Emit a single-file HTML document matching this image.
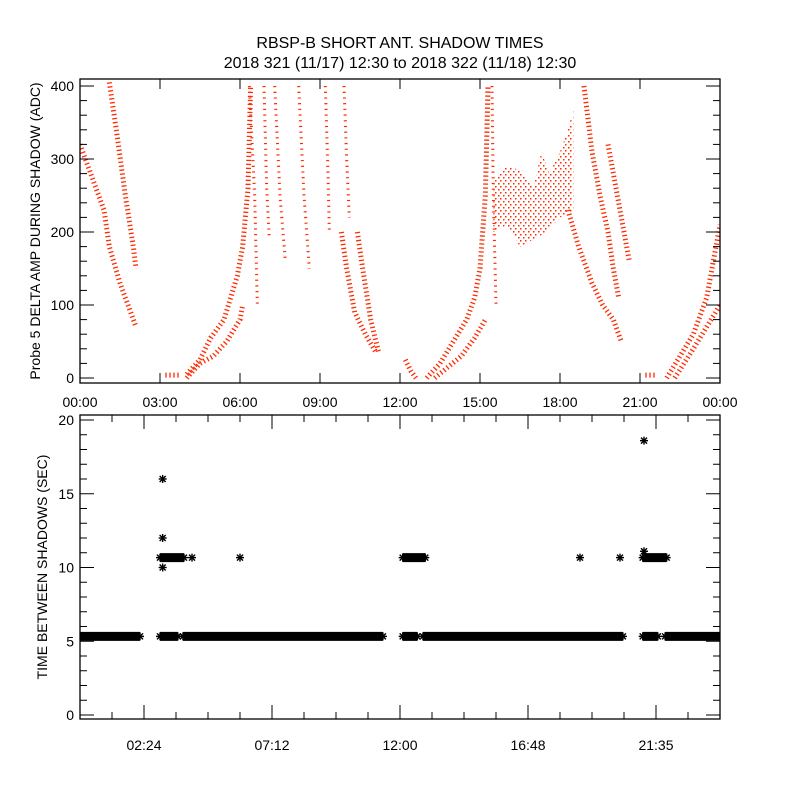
<!DOCTYPE html>
<html><head><meta charset="utf-8"><style>
html,body{margin:0;padding:0;background:#fff}
svg{display:block}
text{font-family:"Liberation Sans",sans-serif;fill:#000}
</style></head><body>
<svg id="chart" width="800" height="800" viewBox="0 0 800 800">
<defs>
<pattern id="dots" width="5" height="6" patternUnits="userSpaceOnUse">
<rect x="0" y="0" width="1.5" height="1.5" fill="#ff2a00"/>
<rect x="3" y="3" width="1.5" height="1.5" fill="#ff2a00"/>
</pattern>
<clipPath id="clipTop"><rect x="80" y="79" width="640" height="304"/></clipPath>
<clipPath id="clipBot"><rect x="80" y="415" width="640" height="304"/></clipPath>
</defs>
<text x="400" y="48" text-anchor="middle" font-size="16">RBSP-B SHORT ANT. SHADOW TIMES</text>
<text x="400" y="68" text-anchor="middle" font-size="16">2018 321 (11/17) 12:30 to 2018 322 (11/18) 12:30</text>
<g id="topPanel"><g id="topMarks" clip-path="url(#clipTop)"></g></g>
<g id="botPanel"><g id="botMarks" clip-path="url(#clipBot)"></g></g>
</svg>
<script>
// ---------- data ----------
const topXTickLabels = ["00:00","03:00","06:00","09:00","12:00","15:00","18:00","21:00","00:00"];
const topYTickLabels = ["0","100","200","300","400"];
const botXTickLabels = ["02:24","07:12","12:00","16:48","21:35"];
const botYTickLabels = ["0","5","10","15","20"];
// amplitude tracks: [hour, ADC]
const trackA = [[0,320],[0.5,270],[0.9,230],[1.1,180],[1.5,130],[1.9,90],[2.1,70]];
const trackB = [[1.1,405],[1.4,330],[1.7,250],[2.0,180],[2.1,150]];
const trackLow1 = [[3.2,4],[3.7,4]];
const trackC = [[4.0,5],[4.5,25],[4.9,55],[5.4,80],[5.9,140],[6.1,180],[6.3,260],[6.4,400]];
const trackD = [[4.0,0],[4.5,20],[5.0,30],[5.5,50],[6.0,80],[6.1,100]];
const streak1 = [[6.35,400],[6.55,250],[6.65,100]];
const streak2 = [[6.9,400],[7.0,260],[7.1,190]];
const streak3 = [[7.3,400],[7.5,250],[7.7,160]];
const streak4 = [[8.2,400],[8.4,250],[8.6,150]];
const streak5 = [[9.2,400],[9.3,280],[9.35,200]];
const streak6 = [[9.9,400],[10.0,300],[10.1,220]];
const trackF = [[9.8,200],[10.0,150],[10.3,90],[10.7,60],[11.1,35]];
const trackG = [[10.4,200],[10.6,150],[10.9,80],[11.2,35]];
const trackNoon = [[12.2,25],[12.4,10],[12.6,0]];
const trackH = [[13.0,0],[13.5,20],[14.0,50],[14.5,80],[14.8,110],[15.0,150],[15.2,250],[15.3,400]];
const trackI = [[13.3,0],[13.8,15],[14.3,30],[14.8,55],[15.2,80]];
const streak7 = [[15.45,400],[15.5,250],[15.6,100]];
const cloudTop = [[15.5,270],[16,290],[16.5,285],[17,260],[17.3,310],[17.6,280],[18,310],[18.3,340],[18.5,370]];
const cloudBottom = [[15.5,200],[16,210],[16.5,180],[17,190],[17.5,200],[18,220],[18.5,230]];
const trackJ = [[18.3,230],[18.7,180],[19.2,130],[19.6,100],[20.0,80],[20.3,50]];
const trackK = [[18.9,400],[19.2,310],[19.5,250],[19.8,200],[20.0,150],[20.2,110]];
const trackL = [[19.8,320],[20.1,260],[20.4,200],[20.6,160]];
const trackLow2 = [[21.2,4],[21.6,4]];
const trackM = [[22.0,0],[22.5,30],[23.0,60],[23.5,110],[24.0,210]];
const trackN = [[22.3,0],[23.0,40],[23.5,70],[24.0,100]];
const tracks = [trackA,trackB,trackLow1,trackC,trackD,trackF,trackG,trackNoon,trackH,trackI,trackJ,trackK,trackL,trackLow2,trackM,trackN];
const streaks = [streak1,streak2,streak3,streak4,streak5,streak6,streak7];
// time-between-shadows runs: [startHour, endHour, seconds]
const baseRuns = [[0,2.25,5.33],[3.0,3.67,5.33],[3.86,11.36,5.33],[12.1,12.65,5.33],[12.86,20.36,5.33],[21.1,21.67,5.33],[21.94,24,5.33]];
const doubleRuns = [[3.0,3.9,10.67],[12.1,12.95,10.67],[21.1,22.0,10.67]];
const singleTimes = [3.1,3.1,3.1,4.2,6.0,18.75,20.25,21.15,21.15];
const singleValues = [16,12,10,10.67,10.67,10.67,10.67,18.6,11.1];

// ---------- helpers ----------
const NS="http://www.w3.org/2000/svg";
function mk(tag,attrs,parent){const e=document.createElementNS(NS,tag);for(const k in attrs)e.setAttribute(k,attrs[k]);parent.appendChild(e);return e;}
const L=80,R=720;
const xS=h=>L+(h/24)*(R-L);
const tY=v=>378-v*0.73;
const bY=v=>715-v*14.75;
const topG=document.getElementById('topPanel'), botG=document.getElementById('botPanel');
const topM=document.getElementById('topMarks'), botM=document.getElementById('botMarks');

// ---------- top panel ----------
let box=mk('rect',{x:L,y:79,width:R-L,height:304,fill:'none',stroke:'#000','stroke-width':1.3},topG);


let cpts=cloudTop.map(p=>xS(p[0])+','+tY(p[1])).concat(cloudBottom.slice().reverse().map(p=>xS(p[0])+','+tY(p[1]))).join(' ');
let cl=mk('polygon',{points:cpts,fill:'url(#dots)'},topM);


tracks.forEach(t=>{
  const pts=t.map(p=>xS(p[0])+','+tY(p[1])).join(' ');
  const pl=mk('polyline',{points:pts,fill:'none',stroke:'#ff2a00','stroke-width':5,'stroke-dasharray':'1.3 2.7'},topM);
  
  
});
streaks.forEach(t=>{
  const pts=t.map(p=>xS(p[0])+','+tY(p[1])).join(' ');
  const pl=mk('polyline',{points:pts,fill:'none',stroke:'#ff2a00','stroke-width':3,'stroke-dasharray':'1.2 4.5'},topM);
  
  
});
for(let i=0;i<topXTickLabels.length;i++){
  const x=L+i*80;
  mk('line',{x1:x,y1:383,x2:x,y2:373,stroke:'#000'},topG);
  mk('line',{x1:x,y1:79,x2:x,y2:89,stroke:'#000'},topG);
  const t=mk('text',{x:x,y:407,'text-anchor':'middle','font-size':14},topG);
  t.textContent=topXTickLabels[i];
  
  
}
for(let v=0;v<=400;v+=20){
  const y=tY(v), len=(v%100===0)?14:7;
  mk('line',{x1:L,y1:y,x2:L+len,y2:y,stroke:'#000'},topG);
  mk('line',{x1:R,y1:y,x2:R-len,y2:y,stroke:'#000'},topG);
}
topYTickLabels.forEach((s,i)=>{
  const t=mk('text',{x:74,y:tY(i*100)+5,'text-anchor':'end','font-size':14},topG);
  t.textContent=s;
  
  
});
let yl=mk('text',{x:0,y:0,'text-anchor':'middle','font-size':14,transform:'translate(40,231) rotate(-90)'},topG);
yl.textContent='Probe 5 DELTA AMP DURING SHADOW (ADC)';



// ---------- bottom panel ----------
let box2=mk('rect',{x:L,y:415,width:R-L,height:304,fill:'none',stroke:'#000','stroke-width':1.3},botG);


function star(x,y,g){
  const s=mk('g',{stroke:'#000','stroke-width':1.4},g);
  mk('line',{x1:x-4,y1:y,x2:x+4,y2:y},s);
  mk('line',{x1:x,y1:y-4,x2:x,y2:y+4},s);
  mk('line',{x1:x-3,y1:y-3,x2:x+3,y2:y+3},s);
  mk('line',{x1:x-3,y1:y+3,x2:x+3,y2:y-3},s);
  return s;
}
baseRuns.concat(doubleRuns).forEach(r=>{
  const x1=xS(r[0]),x2=xS(r[1]),y=bY(r[2]);
  const rc=mk('rect',{x:x1,y:y-4.5,width:Math.max(1,x2-x1),height:9,fill:'#000'},botM);
  
  
  const s1=star(x1,y,botM);
  
  
  const s2=star(x2,y,botM);
  
  
});
singleTimes.forEach((h,i)=>{
  const s=star(xS(h),bY(singleValues[i]),botM);
  
  
});
for(let x=L;x<=R+0.1;x+=32){
  const major=Math.abs(((x-144)%128+128)%128)<0.1;
  const len=major?14:7;
  mk('line',{x1:x,y1:719,x2:x,y2:719-len,stroke:'#000'},botG);
  mk('line',{x1:x,y1:415,x2:x,y2:415+len,stroke:'#000'},botG);
}
botXTickLabels.forEach((s,i)=>{
  const t=mk('text',{x:144+i*128,y:750,'text-anchor':'middle','font-size':14},botG);
  t.textContent=s;
  
  
});
for(let v=0;v<=20;v+=1){
  const y=bY(v), len=(v%5===0)?14:7;
  mk('line',{x1:L,y1:y,x2:L+len,y2:y,stroke:'#000'},botG);
  mk('line',{x1:R,y1:y,x2:R-len,y2:y,stroke:'#000'},botG);
}
botYTickLabels.forEach((s,i)=>{
  const t=mk('text',{x:74,y:bY(i*5)+5,'text-anchor':'end','font-size':14},botG);
  t.textContent=s;
  
  
});
let yl2=mk('text',{x:0,y:0,'text-anchor':'middle','font-size':14,transform:'translate(47,567) rotate(-90)'},botG);
yl2.textContent='TIME BETWEEN SHADOWS (SEC)';


</script>
</body></html>
